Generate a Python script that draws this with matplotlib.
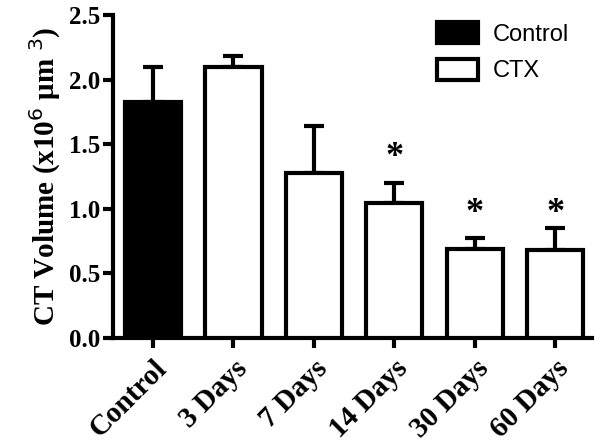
import matplotlib
matplotlib.use("Agg")
import matplotlib.pyplot as plt
import matplotlib.transforms as mtransforms
from matplotlib.patches import Patch

# data
groups = ["Control", "3 Days", "7 Days", "14 Days", "30 Days", "60 Days"]
means = [1.83, 2.10, 1.28, 1.045, 0.69, 0.68]
errors = [0.27, 0.08, 0.36, 0.155, 0.085, 0.17]
is_control = [True, False, False, False, False, False]
significant = [False, False, False, True, True, True]
star_heights = [0, 0, 0, 1.40, 0.96, 0.96]

serif = "Liberation Serif"
sans = "Liberation Sans"
lw = 3.0

fig = plt.figure(figsize=(6, 4.48), dpi=100)
ax = fig.add_axes([0.188, 0.2455, 0.799, 0.721])

x = list(range(len(groups)))
face = ["black" if c else "white" for c in is_control]
ax.bar(x, means, width=0.7, color=face, edgecolor="black", linewidth=lw, zorder=3)
ax.errorbar(x, means, yerr=[[0] * len(errors), errors], fmt="none", ecolor="black",
            elinewidth=lw, capsize=7, capthick=lw, zorder=2)

# significance markers
for xi, sig, h in zip(x, significant, star_heights):
    if sig:
        ax.text(xi, h, "*", ha="center", va="center", fontsize=26,
                fontweight="bold", family=serif)

ax.set_xlim(-0.5, 5.46)
ax.set_ylim(0, 2.5)
ax.set_yticks([0, 0.5, 1.0, 1.5, 2.0, 2.5])
ax.set_yticklabels(["0.0", "0.5", "1.0", "1.5", "2.0", "2.5"])
ax.set_xticks(x)
ax.set_xticklabels(groups, rotation=45, ha="right", rotation_mode="anchor")

# nudge the slanted labels a little to the right, like the original
shift = mtransforms.ScaledTranslation(6 / 72, 0, fig.dpi_scale_trans)
for lab in ax.get_xticklabels():
    lab.set_family(serif)
    lab.set_fontweight("bold")
    lab.set_fontsize(21)
    lab.set_transform(lab.get_transform() + shift)
for lab in ax.get_yticklabels():
    lab.set_family(serif)
    lab.set_fontweight("bold")
    lab.set_fontsize(18)

ax.spines["top"].set_visible(False)
ax.spines["right"].set_visible(False)
ax.spines["left"].set_linewidth(lw)
ax.spines["bottom"].set_linewidth(lw)
ax.tick_params(axis="both", width=lw, length=7, pad=2)
ax.tick_params(axis="x", pad=5)

ax.set_ylabel("CT Volume (x10$^{6}$ \u03bcm $^{3}$)", family=serif, fontweight="bold",
              fontsize=21, labelpad=4)

handles = [Patch(facecolor="black", edgecolor="black", linewidth=lw),
           Patch(facecolor="white", edgecolor="black", linewidth=lw)]
ax.legend(handles, ["Control", "CTX"], loc="upper left",
          bbox_to_anchor=(437 / 600, 1 - 22 / 448), bbox_transform=fig.transFigure,
          frameon=False, prop={"family": sans, "size": 17}, handlelength=1.75,
          handleheight=1.0, handletextpad=0.6, labelspacing=0.55, borderpad=0,
          borderaxespad=0)

fig.savefig("out.png", dpi=100)
